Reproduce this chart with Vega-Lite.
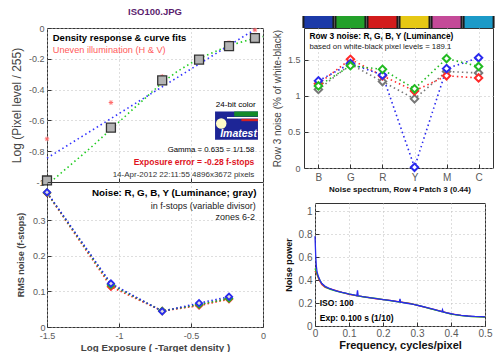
{
  "$schema": "https://vega.github.io/schema/vega-lite/v6.json",
  "background": "white",
  "padding": {"left": 9, "top": 6, "right": 0, "bottom": 0},
  "spacing": 5,
  "config": {
    "font": "Liberation Sans",
    "view": {"stroke": "#333", "strokeWidth": 1},
    "axis": {"domain": false, "grid": true, "gridColor": "#bdbdbd", "gridDash": [1, 3], "gridWidth": 1, "ticks": true, "tickSize": -4, "tickColor": "#333", "labelColor": "#5a5a5a", "labelFontSize": 9, "labelPadding": 7, "labelOverlap": false, "labelFlush": false, "titleColor": "#444", "titleFontSize": 12, "titleFontWeight": "normal"}
  },
  "datasets": {
    "tl_patches": [{"x": -1.5, "y": -0.99}, {"x": -1.056, "y": -0.647}, {"x": -0.70, "y": -0.34}, {"x": -0.444, "y": -0.205}, {"x": -0.236, "y": -0.118}, {"x": -0.056, "y": -0.065}],
    "tl_uneven": [{"x": -1.5, "y": -0.72}, {"x": -1.056, "y": -0.484}, {"x": -0.70, "y": -0.314}, {"x": -0.444, "y": -0.2}, {"x": -0.236, "y": -0.095}, {"x": -0.056, "y": -0.013}],
    "tl_fit": [{"x": -1.5, "y": -0.845}, {"x": -0.04, "y": 0}],
    "tl_curve": [{"x": -1.5, "y": -1.02}, {"x": -1.4, "y": -0.94}, {"x": -1.3, "y": -0.86}, {"x": -1.2, "y": -0.78}, {"x": -1.1, "y": -0.695}, {"x": -1.0, "y": -0.61}, {"x": -0.9, "y": -0.525}, {"x": -0.8, "y": -0.44}, {"x": -0.7, "y": -0.355}, {"x": -0.6, "y": -0.285}, {"x": -0.5, "y": -0.228}, {"x": -0.4, "y": -0.18}, {"x": -0.3, "y": -0.14}, {"x": -0.2, "y": -0.105}, {"x": -0.1, "y": -0.078}, {"x": 0, "y": -0.055}],
    "bl_noise": [
      {"ch": "Luminance", "x": -1.5, "n": 0.377}, {"ch": "Luminance", "x": -1.056, "n": 0.119}, {"ch": "Luminance", "x": -0.70, "n": 0.045}, {"ch": "Luminance", "x": -0.444, "n": 0.062}, {"ch": "Luminance", "x": -0.236, "n": 0.081},
      {"ch": "Red", "x": -1.5, "n": 0.376}, {"ch": "Red", "x": -1.056, "n": 0.113}, {"ch": "Red", "x": -0.70, "n": 0.045}, {"ch": "Red", "x": -0.444, "n": 0.060}, {"ch": "Red", "x": -0.236, "n": 0.078},
      {"ch": "Green", "x": -1.5, "n": 0.377}, {"ch": "Green", "x": -1.056, "n": 0.118}, {"ch": "Green", "x": -0.70, "n": 0.045}, {"ch": "Green", "x": -0.444, "n": 0.063}, {"ch": "Green", "x": -0.236, "n": 0.080},
      {"ch": "Blue", "x": -1.5, "n": 0.378}, {"ch": "Blue", "x": -1.056, "n": 0.122}, {"ch": "Blue", "x": -0.70, "n": 0.044}, {"ch": "Blue", "x": -0.444, "n": 0.067}, {"ch": "Blue", "x": -0.236, "n": 0.085}
    ],
    "patches": [{"patch": "B"}, {"patch": "G"}, {"patch": "R"}, {"patch": "Y"}, {"patch": "M"}, {"patch": "C"}],
    "row3": [
      {"ch": "Luminance", "patch": "B", "n": 1.09}, {"ch": "Luminance", "patch": "G", "n": 1.44}, {"ch": "Luminance", "patch": "R", "n": 1.2}, {"ch": "Luminance", "patch": "Y", "n": 0.96}, {"ch": "Luminance", "patch": "M", "n": 1.34}, {"ch": "Luminance", "patch": "C", "n": 1.32},
      {"ch": "Red", "patch": "B", "n": 1.17}, {"ch": "Red", "patch": "G", "n": 1.51}, {"ch": "Red", "patch": "R", "n": 1.28}, {"ch": "Red", "patch": "Y", "n": 1.07}, {"ch": "Red", "patch": "M", "n": 1.28}, {"ch": "Red", "patch": "C", "n": 1.25},
      {"ch": "Blue", "patch": "B", "n": 1.21}, {"ch": "Blue", "patch": "G", "n": 1.45}, {"ch": "Blue", "patch": "R", "n": 1.29}, {"ch": "Blue", "patch": "Y", "n": 0.01}, {"ch": "Blue", "patch": "M", "n": 1.38}, {"ch": "Blue", "patch": "C", "n": 1.53},
      {"ch": "Green", "patch": "B", "n": 1.14}, {"ch": "Green", "patch": "G", "n": 1.42}, {"ch": "Green", "patch": "R", "n": 1.37}, {"ch": "Green", "patch": "Y", "n": 1.1}, {"ch": "Green", "patch": "M", "n": 1.52}, {"ch": "Green", "patch": "C", "n": 1.41}
    ],
    "spectrum": [
      {"ch": "Red", "f": 0, "p": 0.48}, {"ch": "Red", "f": 0.004, "p": 0.46}, {"ch": "Red", "f": 0.008, "p": 0.43}, {"ch": "Red", "f": 0.012, "p": 0.4}, {"ch": "Red", "f": 0.02, "p": 0.36}, {"ch": "Red", "f": 0.03, "p": 0.335}, {"ch": "Red", "f": 0.045, "p": 0.322}, {"ch": "Red", "f": 0.06, "p": 0.31}, {"ch": "Red", "f": 0.08, "p": 0.292}, {"ch": "Red", "f": 0.1, "p": 0.276}, {"ch": "Red", "f": 0.125, "p": 0.262}, {"ch": "Red", "f": 0.15, "p": 0.252}, {"ch": "Red", "f": 0.18, "p": 0.236}, {"ch": "Red", "f": 0.21, "p": 0.228}, {"ch": "Red", "f": 0.25, "p": 0.21}, {"ch": "Red", "f": 0.28, "p": 0.196}, {"ch": "Red", "f": 0.31, "p": 0.172}, {"ch": "Red", "f": 0.34, "p": 0.152}, {"ch": "Red", "f": 0.37, "p": 0.13}, {"ch": "Red", "f": 0.4, "p": 0.105}, {"ch": "Red", "f": 0.43, "p": 0.092}, {"ch": "Red", "f": 0.46, "p": 0.084}, {"ch": "Red", "f": 0.5, "p": 0.079},
      {"ch": "Green", "f": 0, "p": 0.5}, {"ch": "Green", "f": 0.004, "p": 0.47}, {"ch": "Green", "f": 0.008, "p": 0.44}, {"ch": "Green", "f": 0.012, "p": 0.41}, {"ch": "Green", "f": 0.02, "p": 0.37}, {"ch": "Green", "f": 0.03, "p": 0.34}, {"ch": "Green", "f": 0.045, "p": 0.318}, {"ch": "Green", "f": 0.06, "p": 0.305}, {"ch": "Green", "f": 0.08, "p": 0.29}, {"ch": "Green", "f": 0.1, "p": 0.279}, {"ch": "Green", "f": 0.125, "p": 0.263}, {"ch": "Green", "f": 0.15, "p": 0.25}, {"ch": "Green", "f": 0.18, "p": 0.24}, {"ch": "Green", "f": 0.21, "p": 0.226}, {"ch": "Green", "f": 0.25, "p": 0.208}, {"ch": "Green", "f": 0.28, "p": 0.194}, {"ch": "Green", "f": 0.31, "p": 0.175}, {"ch": "Green", "f": 0.34, "p": 0.15}, {"ch": "Green", "f": 0.37, "p": 0.128}, {"ch": "Green", "f": 0.4, "p": 0.104}, {"ch": "Green", "f": 0.43, "p": 0.09}, {"ch": "Green", "f": 0.46, "p": 0.082}, {"ch": "Green", "f": 0.5, "p": 0.078},
      {"ch": "Blue", "f": 0, "p": 0.78}, {"ch": "Blue", "f": 0.002, "p": 0.62}, {"ch": "Blue", "f": 0.004, "p": 0.52}, {"ch": "Blue", "f": 0.006, "p": 0.47}, {"ch": "Blue", "f": 0.01, "p": 0.43}, {"ch": "Blue", "f": 0.015, "p": 0.395}, {"ch": "Blue", "f": 0.02, "p": 0.37}, {"ch": "Blue", "f": 0.03, "p": 0.345}, {"ch": "Blue", "f": 0.04, "p": 0.33}, {"ch": "Blue", "f": 0.05, "p": 0.318}, {"ch": "Blue", "f": 0.06, "p": 0.308}, {"ch": "Blue", "f": 0.07, "p": 0.3}, {"ch": "Blue", "f": 0.08, "p": 0.292}, {"ch": "Blue", "f": 0.09, "p": 0.285}, {"ch": "Blue", "f": 0.1, "p": 0.278}, {"ch": "Blue", "f": 0.11, "p": 0.272}, {"ch": "Blue", "f": 0.12, "p": 0.266}, {"ch": "Blue", "f": 0.123, "p": 0.264}, {"ch": "Blue", "f": 0.125, "p": 0.31}, {"ch": "Blue", "f": 0.127, "p": 0.263}, {"ch": "Blue", "f": 0.14, "p": 0.256}, {"ch": "Blue", "f": 0.16, "p": 0.247}, {"ch": "Blue", "f": 0.18, "p": 0.238}, {"ch": "Blue", "f": 0.2, "p": 0.23}, {"ch": "Blue", "f": 0.22, "p": 0.222}, {"ch": "Blue", "f": 0.24, "p": 0.213}, {"ch": "Blue", "f": 0.248, "p": 0.21}, {"ch": "Blue", "f": 0.25, "p": 0.235}, {"ch": "Blue", "f": 0.252, "p": 0.208}, {"ch": "Blue", "f": 0.27, "p": 0.198}, {"ch": "Blue", "f": 0.29, "p": 0.188}, {"ch": "Blue", "f": 0.31, "p": 0.174}, {"ch": "Blue", "f": 0.33, "p": 0.16}, {"ch": "Blue", "f": 0.35, "p": 0.145}, {"ch": "Blue", "f": 0.37, "p": 0.127}, {"ch": "Blue", "f": 0.373, "p": 0.125}, {"ch": "Blue", "f": 0.375, "p": 0.142}, {"ch": "Blue", "f": 0.377, "p": 0.123}, {"ch": "Blue", "f": 0.39, "p": 0.113}, {"ch": "Blue", "f": 0.41, "p": 0.102}, {"ch": "Blue", "f": 0.43, "p": 0.093}, {"ch": "Blue", "f": 0.45, "p": 0.087}, {"ch": "Blue", "f": 0.47, "p": 0.083}, {"ch": "Blue", "f": 0.49, "p": 0.081}, {"ch": "Blue", "f": 0.5, "p": 0.08}
    ]
  },
  "hconcat": [
    {
      "bounds": "flush",
      "spacing": 0,
      "vconcat": [
        {
          "width": 216, "height": 154,
          "title": {"text": "ISO100.JPG", "fontSize": 9.5, "fontWeight": "bold", "color": "#5b1e6e", "offset": 8},
          "layer": [
            {
              "data": {"name": "tl_curve"},
              "mark": {"type": "line", "color": "#22cc22", "strokeDash": [1.5, 3], "strokeWidth": 1.6},
              "encoding": {
                "x": {"field": "x", "type": "quantitative", "scale": {"domain": [-1.5, 0], "nice": false}, "axis": {"values": [-1.5, -1, -0.5, 0], "tickCount": 20, "labels": false, "title": null}},
                "y": {"field": "y", "type": "quantitative", "scale": {"domain": [-1, 0], "nice": false}, "axis": {"values": [-1, -0.8, -0.6, -0.4, -0.2, 0], "tickCount": 20, "labelPadding": 7, "title": "Log (Pixel level / 255)", "titleFontSize": 12, "titlePadding": 5, "labelExpr": "replace(format(datum.value, '~g'), '\u2212', '-')"}}
              }
            },
            {
              "data": {"name": "tl_fit"},
              "mark": {"type": "line", "color": "#3333ff", "strokeDash": [1.5, 3], "strokeWidth": 1.6},
              "encoding": {"x": {"field": "x", "type": "quantitative"}, "y": {"field": "y", "type": "quantitative"}}
            },
            {
              "data": {"name": "tl_uneven"},
              "mark": {"type": "point", "shape": "M0,-1L0,1M-1,0L1,0M-0.7,-0.7L0.7,0.7M-0.7,0.7L0.7,-0.7", "filled": false, "color": "#ff6a6a", "strokeWidth": 1, "size": 20, "opacity": 1},
              "encoding": {"x": {"field": "x", "type": "quantitative"}, "y": {"field": "y", "type": "quantitative"}}
            },
            {
              "data": {"name": "tl_patches"},
              "mark": {"type": "point", "shape": "square", "filled": true, "fill": "#b4b4b4", "stroke": "#333", "strokeWidth": 1.3, "size": 80, "opacity": 1},
              "encoding": {"x": {"field": "x", "type": "quantitative"}, "y": {"field": "y", "type": "quantitative"}}
            },
            {
              "data": {"values": [{}]},
              "mark": {"type": "text", "text": "Density response & curve fits", "align": "left", "baseline": "middle", "fontSize": 9.5, "fontWeight": "bold", "color": "#000"},
              "encoding": {"x": {"datum": -1.46}, "y": {"datum": -0.065}}
            },
            {
              "data": {"values": [{}]},
              "mark": {"type": "text", "text": "Uneven illumination (H & V)", "align": "left", "baseline": "middle", "fontSize": 9.2, "color": "#ff5a5a"},
              "encoding": {"x": {"datum": -1.46}, "y": {"datum": -0.144}}
            },
            {
              "data": {"values": [{}]},
              "mark": {"type": "text", "text": "24-bit color", "align": "right", "baseline": "middle", "fontSize": 8.1, "color": "#000"},
              "encoding": {"x": {"datum": -0.05}, "y": {"datum": -0.497}}
            },
            {
              "data": {"values": [{}]},
              "mark": {"type": "rect", "color": "#1d2596"},
              "encoding": {"x": {"datum": -0.333}, "x2": {"datum": -0.035}, "y": {"datum": -0.542}, "y2": {"datum": -0.725}}
            },
            {
              "data": {"values": [{}]},
              "mark": {"type": "rect", "color": "#138a2a"},
              "encoding": {"x": {"datum": -0.2}, "x2": {"datum": -0.035}, "y": {"datum": -0.542}, "y2": {"datum": -0.575}}
            },
            {
              "data": {"values": [{}]},
              "mark": {"type": "rect", "color": "#ffffff"},
              "encoding": {"x": {"datum": -0.25}, "x2": {"datum": -0.035}, "y": {"datum": -0.578}, "y2": {"datum": -0.588}}
            },
            {
              "data": {"values": [{}]},
              "mark": {"type": "rect", "color": "#d42020"},
              "encoding": {"x": {"datum": -0.15}, "x2": {"datum": -0.035}, "y": {"datum": -0.59}, "y2": {"datum": -0.605}}
            },
            {
              "data": {"values": [{}]},
              "mark": {"type": "point", "shape": "circle", "filled": true, "color": "#fffbc8", "size": 110, "opacity": 1},
              "encoding": {"x": {"datum": -0.29}, "y": {"datum": -0.62}}
            },
            {
              "data": {"values": [{}]},
              "mark": {"type": "text", "text": "Imatest", "align": "center", "baseline": "middle", "fontSize": 10.5, "fontWeight": "bold", "fontStyle": "italic", "color": "#ffffff"},
              "encoding": {"x": {"datum": -0.17}, "y": {"datum": -0.69}}
            },
            {
              "data": {"values": [{}]},
              "mark": {"type": "text", "text": "Gamma = 0.635 = 1/1.58", "align": "right", "baseline": "middle", "fontSize": 7.8, "color": "#000"},
              "encoding": {"x": {"datum": -0.06}, "y": {"datum": -0.79}}
            },
            {
              "data": {"values": [{}]},
              "mark": {"type": "text", "text": "Exposure error = -0.28 f-stops", "align": "right", "baseline": "middle", "fontSize": 8.5, "fontWeight": "bold", "color": "#e0141e"},
              "encoding": {"x": {"datum": -0.06}, "y": {"datum": -0.87}}
            },
            {
              "data": {"values": [{}]},
              "mark": {"type": "text", "text": "14-Apr-2012 22:11:55   4896x3672 pixels", "align": "right", "baseline": "middle", "fontSize": 8, "color": "#333"},
              "encoding": {"x": {"datum": -0.06}, "y": {"datum": -0.954}}
            }
          ]
        },
        {
          "width": 216, "height": 145,
          "layer": [
            {
              "data": {"name": "bl_noise"},
              "mark": {"type": "line", "strokeDash": [1.5, 2.5], "strokeWidth": 1.6},
              "encoding": {
                "x": {"field": "x", "type": "quantitative", "scale": {"domain": [-1.5, 0], "nice": false}, "axis": {"values": [-1.5, -1, -0.5, 0], "tickCount": 20, "labelPadding": 8, "title": "Log Exposure ( -Target density )", "titleFontWeight": "bold", "titleFontSize": 9.8, "titlePadding": 2, "labelExpr": "replace(format(datum.value, '~g'), '\u2212', '-')"}},
                "y": {"field": "n", "type": "quantitative", "scale": {"domain": [0, 0.407], "nice": false}, "axis": {"values": [0, 0.1, 0.2, 0.3], "tickCount": 20, "labelPadding": 6, "labelExpr": "format(datum.value, '~g')", "title": "RMS noise (f-stops)", "titleFontWeight": "bold", "titleFontSize": 9, "titlePadding": 7}},
                "stroke": {"field": "ch", "type": "nominal", "scale": {"domain": ["Luminance", "Red", "Green", "Blue"], "range": ["#777777", "#ff2a2a", "#22bb22", "#2a2aee"]}, "legend": null}
              }
            },
            {
              "data": {"name": "bl_noise"},
              "mark": {"type": "point", "shape": "diamond", "filled": true, "fill": "#dddddd", "strokeWidth": 1.8, "size": 40, "opacity": 1},
              "encoding": {
                "x": {"field": "x", "type": "quantitative"},
                "y": {"field": "n", "type": "quantitative"},
                "stroke": {"field": "ch", "type": "nominal", "legend": null}
              }
            },
            {
              "data": {"values": [{}]},
              "mark": {"type": "text", "text": "Noise: R, G, B, Y (Luminance; gray)", "align": "right", "baseline": "middle", "fontSize": 9.8, "fontWeight": "bold", "color": "#000"},
              "encoding": {"x": {"datum": -0.045}, "y": {"datum": 0.377}}
            },
            {
              "data": {"values": [{}]},
              "mark": {"type": "text", "text": "in f-stops (variable divisor)", "align": "right", "baseline": "middle", "fontSize": 9, "color": "#222"},
              "encoding": {"x": {"datum": -0.05}, "y": {"datum": 0.341}}
            },
            {
              "data": {"values": [{}]},
              "mark": {"type": "text", "text": "zones 6-2", "align": "right", "baseline": "middle", "fontSize": 9, "color": "#222"},
              "encoding": {"x": {"datum": -0.055}, "y": {"datum": 0.31}}
            }
          ]
        }
      ]
    },
    {
      "bounds": "flush",
      "spacing": 35,
      "vconcat": [
        {
          "width": 189, "height": 140,
          "layer": [
            {
              "data": {"name": "patches"},
              "mark": {"type": "bar", "size": 32, "color": "#1c1c1c"},
              "encoding": {
                "x": {"field": "patch", "type": "ordinal", "scale": {"type": "point", "domain": ["B", "G", "R", "Y", "M", "C"], "padding": 0.45}, "axis": {"labelAngle": 0, "title": null, "labelFontSize": 10, "labelPadding": 8}},
                "y": {"datum": 1.944, "type": "quantitative", "scale": {"domain": [0, 1.944], "nice": false}, "axis": {"values": [0, 0.5, 1, 1.5], "tickCount": 20, "labelPadding": 8, "labelExpr": "format(datum.value, '~g')", "title": "Row 3 noise (% of white-black)", "titleFontSize": 10, "titlePadding": 4.5}},
                "y2": {"datum": 2.111}
              }
            },
            {
              "data": {"name": "patches"},
              "mark": {"type": "bar", "size": 28},
              "encoding": {
                "x": {"field": "patch", "type": "ordinal"},
                "y": {"datum": 1.944, "type": "quantitative"},
                "y2": {"datum": 2.111},
                "fill": {"field": "patch", "type": "nominal", "scale": {"domain": ["B", "G", "R", "Y", "M", "C"], "range": ["#1c3aa8", "#23a02a", "#d21c1c", "#e6c814", "#c44a98", "#1c9ac8"]}, "legend": null}
              }
            },
            {
              "data": {"name": "row3"},
              "mark": {"type": "line", "strokeDash": [1.5, 3], "strokeWidth": 1.6},
              "encoding": {
                "x": {"field": "patch", "type": "ordinal"},
                "y": {"field": "n", "type": "quantitative"},
                "stroke": {"field": "ch", "type": "nominal", "scale": {"domain": ["Luminance", "Red", "Blue", "Green"], "range": ["#777777", "#ff2a2a", "#2a2aee", "#22cc22"]}, "legend": null},
                "order": {"value": null}
              }
            },
            {
              "data": {"name": "row3"},
              "mark": {"type": "point", "shape": "diamond", "filled": true, "fill": "white", "strokeWidth": 2, "size": 55, "opacity": 1},
              "encoding": {
                "x": {"field": "patch", "type": "ordinal"},
                "y": {"field": "n", "type": "quantitative"},
                "stroke": {"field": "ch", "type": "nominal", "legend": null}
              }
            },
            {
              "data": {"values": [{}]},
              "mark": {"type": "text", "text": "Row 3 noise: R, G, B, Y (Luminance)", "align": "left", "baseline": "middle", "fontSize": 8.4, "fontWeight": "bold", "color": "#000", "dx": -9},
              "encoding": {"x": {"datum": "B"}, "y": {"datum": 1.83}}
            },
            {
              "data": {"values": [{}]},
              "mark": {"type": "text", "text": "based on white-black pixel levels = 189.1", "align": "left", "baseline": "middle", "fontSize": 7.8, "color": "#222", "dx": -9},
              "encoding": {"x": {"datum": "B"}, "y": {"datum": 1.68}}
            }
          ]
        },
        {
          "bounds": "flush",
          "spacing": 10,
          "hconcat": [
            {
              "width": 1, "height": 1,
              "view": {"stroke": null},
              "data": {"values": []},
              "mark": {"type": "point", "opacity": 0}
            },
            {
              "width": 170, "height": 123,
              "title": {"text": "Noise spectrum, Row 4 Patch 3 (0.44)", "fontSize": 8, "fontWeight": "bold", "color": "#111", "offset": 9},
              "layer": [
                {
                  "data": {"name": "spectrum"},
                  "mark": {"type": "line", "strokeWidth": 1.3},
                  "encoding": {
                    "x": {"field": "f", "type": "quantitative", "scale": {"domain": [0, 0.5], "nice": false}, "axis": {"values": [0, 0.1, 0.2, 0.3, 0.4, 0.5], "tickCount": 20, "labelFontSize": 10, "labelPadding": 6, "labelExpr": "format(datum.value, '~g')", "title": "Frequency, cycles/pixel", "titleFontWeight": "bold", "titleFontSize": 11, "titleColor": "#111", "titlePadding": 1}},
                    "y": {"field": "p", "type": "quantitative", "scale": {"domain": [0, 1.07], "nice": false}, "axis": {"values": [0, 0.2, 0.4, 0.6, 0.8, 1], "tickCount": 20, "labelFontSize": 10, "labelPadding": 7, "labelExpr": "format(datum.value, '~g')", "title": "Noise power", "titleFontWeight": "bold", "titleFontSize": 9, "titleColor": "#111", "titlePadding": 5}},
                    "stroke": {"field": "ch", "type": "nominal", "scale": {"domain": ["Red", "Green", "Blue"], "range": ["#ff3030", "#22bb22", "#5050e6"]}, "legend": null}
                  }
                },
                {
                  "data": {"values": [{}]},
                  "mark": {"type": "text", "text": "ISO:   100", "align": "left", "baseline": "middle", "fontSize": 8.5, "fontWeight": "bold", "color": "#000"},
                  "encoding": {"x": {"datum": 0.014}, "y": {"datum": 0.2}}
                },
                {
                  "data": {"values": [{}]},
                  "mark": {"type": "text", "text": "Exp:   0.100 s  (1/10)", "align": "left", "baseline": "middle", "fontSize": 8.5, "fontWeight": "bold", "color": "#000"},
                  "encoding": {"x": {"datum": 0.014}, "y": {"datum": 0.07}}
                }
              ]
            }
          ]
        }
      ]
    }
  ]
}
